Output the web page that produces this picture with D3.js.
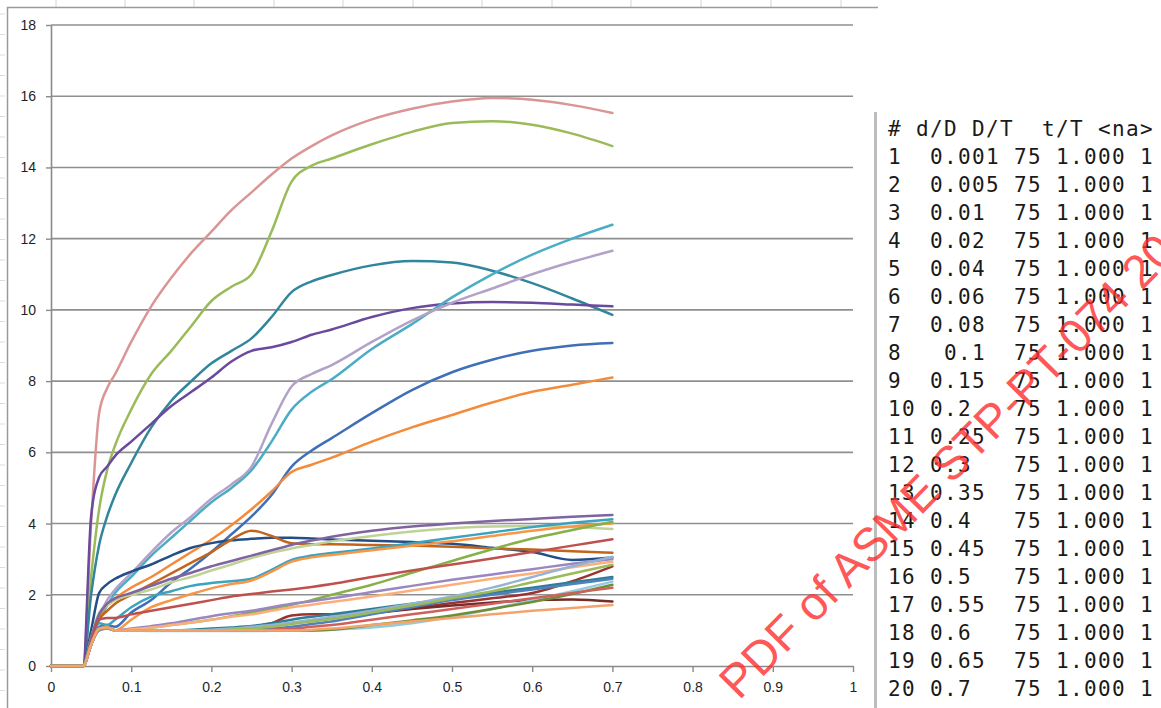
<!DOCTYPE html>
<html>
<head>
<meta charset="utf-8">
<script src="https://cdn.jsdelivr.net/npm/d3@7"></script>
<style>
  html, body { margin: 0; padding: 0; background: #fff; }
  svg { display: block; }
</style>
</head>
<body>
<svg id="chart" width="1161" height="708"></svg>
<script>
// Sample positions along the horizontal axis (shared by every curve)
const xs = [0, 0.04, 0.05, 0.06, 0.07, 0.08, 0.1, 0.125, 0.15, 0.175, 0.2, 0.225, 0.25, 0.275, 0.3, 0.325, 0.35, 0.4, 0.45, 0.5, 0.55, 0.6, 0.65, 0.7];

// Curve values, one array per series
const s01 = [0,0,4.0,7.1,7.8,8.2,9.1,10.1,10.9,11.6,12.2,12.8,13.3,13.8,14.25,14.6,14.9,15.35,15.65,15.85,15.95,15.9,15.75,15.53];
const s02 = [0,0,2.5,4.4,5.5,6.2,7.2,8.2,8.85,9.55,10.25,10.65,11.0,12.2,13.6,14.05,14.25,14.65,15.0,15.25,15.3,15.2,14.95,14.6];
const s03 = [0,0,2.0,3.4,4.2,4.8,5.7,6.7,7.45,8.0,8.5,8.85,9.2,9.8,10.5,10.8,10.98,11.25,11.37,11.33,11.1,10.75,10.32,9.86];
const s04 = [0,0,4.2,5.3,5.6,5.9,6.3,6.8,7.3,7.7,8.1,8.55,8.85,8.95,9.1,9.3,9.45,9.8,10.05,10.18,10.22,10.2,10.15,10.1];
const s05 = [0,0,0.8,1.3,1.7,2.05,2.5,3.1,3.6,4.1,4.6,5.0,5.5,6.3,7.2,7.7,8.05,8.9,9.6,10.35,11.0,11.55,12.0,12.39];
const s06 = [0,0,0.8,1.4,1.85,2.15,2.6,3.2,3.75,4.2,4.7,5.1,5.6,6.8,7.85,8.2,8.45,9.1,9.7,10.2,10.6,11.0,11.35,11.66];
const s07 = [0,0,0.6,1.1,1.15,1.1,1.5,1.85,2.35,2.75,3.2,3.7,4.2,4.8,5.6,6.05,6.4,7.1,7.75,8.25,8.6,8.85,9.0,9.07];
const s08 = [0,0,0.8,1.4,1.7,1.9,2.2,2.5,2.85,3.2,3.55,3.95,4.4,4.9,5.45,5.65,5.85,6.3,6.7,7.05,7.4,7.7,7.9,8.1];
const s09 = [0,0,1.0,2.05,2.3,2.45,2.65,2.85,3.1,3.32,3.45,3.53,3.57,3.6,3.6,3.58,3.55,3.52,3.48,3.43,3.32,3.2,2.98,3.05];
const s10 = [0,0,0.7,1.3,1.55,1.75,2.0,2.3,2.6,2.9,3.2,3.55,3.8,3.65,3.45,3.42,3.42,3.4,3.38,3.35,3.3,3.27,3.22,3.18];
const s11 = [0,0,0.8,1.5,1.7,1.85,2.0,2.15,2.35,2.5,2.68,2.85,3.03,3.18,3.3,3.4,3.5,3.65,3.78,3.87,3.92,3.93,3.9,3.85];
const s12 = [0,0,0.8,1.45,1.75,1.9,2.05,2.25,2.45,2.62,2.8,2.95,3.1,3.25,3.4,3.52,3.63,3.8,3.92,4.0,4.07,4.13,4.19,4.24];
const s13 = [0,0,0.7,1.2,1.15,1.3,1.65,1.95,2.1,2.25,2.33,2.38,2.45,2.7,2.98,3.1,3.17,3.3,3.45,3.6,3.75,3.9,4.02,4.12];
const s14 = [0,0,0.6,1.05,1.1,1.0,1.3,1.65,1.85,2.02,2.18,2.3,2.4,2.65,2.93,3.05,3.12,3.25,3.38,3.5,3.65,3.8,3.92,4.0];
const s15 = [0,0,0.6,1.0,1.05,1.0,1.03,1.08,1.15,1.22,1.3,1.4,1.5,1.6,1.72,1.85,2.0,2.28,2.62,2.95,3.28,3.58,3.82,4.05];
const s16 = [0,0,0.7,1.3,1.35,1.35,1.45,1.55,1.65,1.75,1.85,1.95,2.02,2.09,2.15,2.22,2.3,2.5,2.68,2.85,3.02,3.2,3.38,3.56];
const s17 = [0,0,0.6,1.0,1.05,1.0,1.05,1.12,1.2,1.3,1.4,1.48,1.55,1.65,1.75,1.82,1.9,2.08,2.25,2.42,2.57,2.72,2.87,3.0];
const s18 = [0,0,0.6,1.05,1.08,1.0,1.03,1.08,1.15,1.22,1.3,1.38,1.45,1.55,1.65,1.72,1.8,1.95,2.12,2.28,2.45,2.6,2.77,2.93];
const s19 = [0,0,0.6,1.05,1.08,1.0,1.0,1.0,1.0,1.0,1.02,1.05,1.1,1.2,1.42,1.45,1.45,1.5,1.62,1.77,1.9,2.05,2.38,2.8];
const s20 = [0,0,0.6,1.05,1.08,1.0,1.0,1.0,1.0,1.0,1.0,1.02,1.05,1.12,1.2,1.28,1.35,1.48,1.6,1.7,1.78,1.85,1.87,1.81];
const s21 = [0,0,0.6,1.05,1.08,1.0,1.0,1.0,1.0,1.02,1.05,1.08,1.12,1.2,1.3,1.38,1.45,1.6,1.75,1.9,2.05,2.2,2.35,2.5];
const s22 = [0,0,0.6,1.05,1.08,1.0,1.0,0.98,0.98,0.98,0.98,0.98,0.98,0.99,1.0,1.0,1.02,1.08,1.2,1.38,1.6,1.85,2.1,2.37];
const s23 = [0,0,0.6,1.05,1.08,1.0,1.0,1.0,1.0,1.0,1.0,1.0,1.0,1.0,1.0,1.0,1.02,1.15,1.28,1.42,1.6,1.8,2.02,2.28];
const s24 = [0,0,0.6,1.05,1.08,1.0,1.0,1.0,1.0,1.0,1.0,1.0,1.02,1.05,1.1,1.18,1.25,1.45,1.65,1.85,2.0,2.15,2.3,2.45];
const s25 = [0,0,0.6,1.05,1.08,1.0,1.0,1.0,1.0,1.0,1.02,1.05,1.1,1.15,1.22,1.3,1.38,1.55,1.75,1.95,2.2,2.5,2.8,3.07];
const s26 = [0,0,0.6,1.05,1.08,1.0,1.0,1.0,1.0,1.0,1.0,1.0,1.0,1.02,1.05,1.1,1.15,1.3,1.45,1.6,1.75,1.9,2.05,2.2];
const s27 = [0,0,0.6,1.05,1.08,1.0,1.0,1.0,1.0,1.0,1.0,1.02,1.05,1.1,1.18,1.25,1.32,1.5,1.7,1.9,2.1,2.35,2.6,2.84];
const s28 = [0,0,0.6,1.05,1.08,1.0,1.0,1.0,1.0,1.0,1.0,1.0,1.0,1.0,1.0,1.02,1.05,1.15,1.25,1.35,1.45,1.55,1.63,1.71];

const seriesValues = [s01,s02,s03,s04,s05,s06,s07,s08,s09,s10,s11,s12,s13,s14,s15,s16,s17,s18,s19,s20,s21,s22,s23,s24,s25,s26,s27,s28];
const seriesColors = ["#D99694","#9BBB59","#31859C","#6A4A9C","#4BACC6","#B3A2C7","#3F6FB6","#F38B3A",
                      "#254E86","#C0651E","#BED395","#8064A2","#3BA3BE","#F79646","#86B04A","#C0504D",
                      "#9A86C0","#F9B07A","#9B3431","#772C2A","#2E7E93","#93CDDD","#6E8E35","#4F81BD",
                      "#95B3D7","#D0605C","#9BBB59","#F5A36D"];

// Axis ticks
const xTicks = [0, 0.1, 0.2, 0.3, 0.4, 0.5, 0.6, 0.7, 0.8, 0.9, 1];
const xTickLabels = ["0","0.1","0.2","0.3","0.4","0.5","0.6","0.7","0.8","0.9","1"];
const yTicks = [0, 2, 4, 6, 8, 10, 12, 14, 16, 18];
const yTickLabels = ["0","2","4","6","8","10","12","14","16","18"];

// Case table shown beside the plot
const tableHeader = "# d/D D/T  t/T <na>";
const tableRows = [
  "1  0.001 75 1.000 1",
  "2  0.005 75 1.000 1",
  "3  0.01  75 1.000 1",
  "4  0.02  75 1.000 1",
  "5  0.04  75 1.000 1",
  "6  0.06  75 1.000 1",
  "7  0.08  75 1.000 1",
  "8   0.1  75 1.000 1",
  "9  0.15  75 1.000 1",
  "10 0.2   75 1.000 1",
  "11 0.25  75 1.000 1",
  "12 0.3   75 1.000 1",
  "13 0.35  75 1.000 1",
  "14 0.4   75 1.000 1",
  "15 0.45  75 1.000 1",
  "16 0.5   75 1.000 1",
  "17 0.55  75 1.000 1",
  "18 0.6   75 1.000 1",
  "19 0.65  75 1.000 1",
  "20 0.7   75 1.000 1"
];

const stampText = "PDF of ASME STP-PT-074 20";

const svg = d3.select("#chart");
const W = 1161, H = 708;

// Worksheet backdrop: faint column separators and the chart frame
const colLines = [56,125,194,274,343,413,482,552,631,701,771,841];
svg.append("g").selectAll("line").data(colLines).join("line")
  .attr("x1", d => d).attr("x2", d => d).attr("y1", 0).attr("y2", 7)
  .attr("stroke", "#d4d4d4").attr("stroke-width", 1);
const rowLines = d3.range(14, H, 20.5);
svg.append("g").selectAll("line").data(rowLines).join("line")
  .attr("x1", 0).attr("x2", 5).attr("y1", d => d).attr("y2", d => d)
  .attr("stroke", "#dcdcdc").attr("stroke-width", 1);
svg.append("path")
  .attr("d", "M7.5,708 V7.5 H878")
  .attr("fill", "none").attr("stroke", "#9a9a9a").attr("stroke-width", 1.5);

// Scales
const x = d3.scaleLinear().domain([0, 1]).range([51, 853]);
const y = d3.scaleLinear().domain([0, 18]).range([666, 25]);

// Horizontal gridlines
svg.append("g").selectAll("line").data(yTicks.filter(v => v > 0)).join("line")
  .attr("x1", x(0)).attr("x2", x(1))
  .attr("y1", d => y(d)).attr("y2", d => y(d))
  .attr("stroke", "#8f8f8f").attr("stroke-width", 1.6);

// Axes
const axisFont = "'Liberation Sans', Arial, sans-serif";
const gy = svg.append("g").attr("transform", `translate(${x(0)},0)`)
  .call(d3.axisLeft(y).tickValues(yTicks).tickSize(5).tickSizeOuter(0)
        .tickFormat((d, i) => yTickLabels[i]));
const gx = svg.append("g").attr("transform", `translate(0,${y(0)})`)
  .call(d3.axisBottom(x).tickValues(xTicks).tickSize(6).tickSizeOuter(0)
        .tickFormat((d, i) => xTickLabels[i]));
[gy, gx].forEach(g => {
  g.select(".domain").attr("stroke", "#8a8a8a").attr("stroke-width", 1.6);
  g.selectAll(".tick line").attr("stroke", "#8a8a8a").attr("stroke-width", 1.4);
  g.selectAll(".tick text").attr("fill", "#1e1e28")
    .style("font-family", axisFont).style("font-size", "14px");
});
gy.selectAll(".tick text").attr("x", -15);
gx.selectAll(".tick text").attr("y", 16);

// Curves
const line = d3.line()
  .x((d, i) => x(xs[i]))
  .y(d => y(d))
  .curve(d3.curveMonotoneX);
svg.append("g").selectAll("path").data(seriesValues).join("path")
  .attr("d", d => line(d))
  .attr("fill", "none")
  .attr("stroke", (d, i) => seriesColors[i])
  .attr("stroke-width", 2.5)
  .attr("stroke-linejoin", "round")
  .attr("stroke-linecap", "round");

// Table panel
svg.append("rect").attr("x", 874).attr("y", 112).attr("width", 3).attr("height", H - 112)
  .attr("fill", "#bdbdbd");
const tbl = svg.append("g")
  .style("font-family", "'DejaVu Sans Mono', monospace")
  .style("font-size", "21px")
  .style("letter-spacing", "1.36px")
  .style("white-space", "pre")
  .attr("fill", "#1a1a1a");
tbl.selectAll("text").data([tableHeader, ...tableRows]).join("text")
  .attr("x", 888)
  .attr("y", (d, i) => 136 + 28 * i)
  .attr("xml:space", "preserve")
  .text(d => d);

// Red document stamp across the lower right
svg.append("text")
  .attr("transform", "translate(739,701) rotate(-45.5)")
  .style("font-family", "'Liberation Sans', Arial, sans-serif")
  .style("font-size", "47px")
  .attr("fill", "#ff2a2a")
  .attr("fill-opacity", 0.8)
  .text(stampText);
</script>
</body>
</html>
